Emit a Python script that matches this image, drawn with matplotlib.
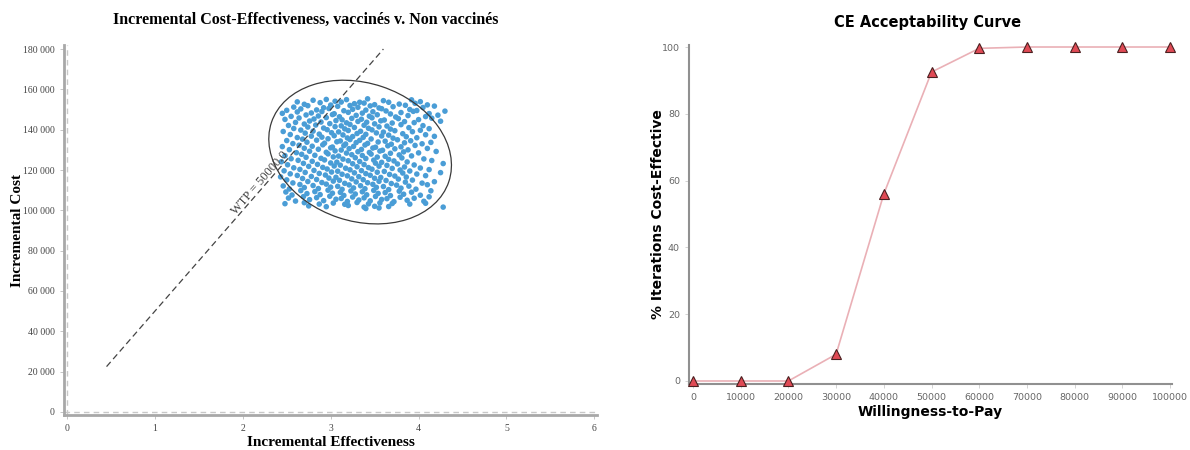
import matplotlib
matplotlib.use("Agg")
import matplotlib.pyplot as plt
from matplotlib.patches import Ellipse
from matplotlib.transforms import ScaledTranslation
from matplotlib.ticker import FuncFormatter

# ---------------- data: incremental cost-effectiveness scatter ----------------
# effectiveness values (x) and incremental cost in thousands (y)
ice_x = [
    2.62, 2.80, 2.95, 3.05, 3.18, 3.33, 3.42, 3.60, 3.92, 4.02,
    2.70, 2.88, 3.00, 3.12, 3.27, 3.38, 3.50, 3.66, 3.78, 3.96, 4.10,
    2.58, 2.74, 2.92, 3.08, 3.22, 3.31, 3.45, 3.55, 3.71, 3.85, 4.05, 4.18,
    2.50, 2.66, 2.84, 2.98, 3.15, 3.25, 3.40, 3.58, 3.63, 3.90, 3.98, 4.30,
    2.45, 2.62, 2.78, 2.90, 3.04, 3.20, 3.36, 3.48, 3.68, 3.80, 3.94, 4.12,
    2.55, 2.72, 2.86, 3.02, 3.10, 3.29, 3.44, 3.53, 3.74, 3.88, 4.08, 4.22,
    2.48, 2.64, 2.81, 2.95, 3.13, 3.24, 3.35, 3.47, 3.61, 3.77, 4.00, 4.15,
    2.60, 2.76, 2.89, 3.06, 3.18, 3.31, 3.41, 3.57, 3.70, 3.84, 3.95, 4.25,
    2.52, 2.70, 2.83, 2.99, 3.12, 3.22, 3.38, 3.50, 3.64, 3.80, 4.05,
    2.58, 2.74, 2.92, 3.05, 3.16, 3.27, 3.43, 3.55, 3.68, 3.89, 4.12,
    2.46, 2.66, 2.80, 2.96, 3.09, 3.20, 3.34, 3.47, 3.60, 3.73, 3.93, 4.02,
    2.54, 2.71, 2.87, 3.01, 3.14, 3.30, 3.40, 3.52, 3.66, 3.82, 4.08,
    2.62, 2.78, 2.90, 3.04, 3.19, 3.25, 3.37, 3.58, 3.71, 3.86, 3.98, 4.18,
    2.50, 2.68, 2.84, 2.97, 3.11, 3.22, 3.33, 3.46, 3.62, 3.76, 3.91,
    2.57, 2.73, 2.93, 3.07, 3.17, 3.29, 3.42, 3.54, 3.69, 3.84, 4.04, 4.14,
    2.45, 2.64, 2.79, 2.91, 3.02, 3.15, 3.26, 3.39, 3.51, 3.65, 3.80, 3.96,
    2.53, 2.70, 2.86, 3.00, 3.12, 3.21, 3.35, 3.48, 3.59, 3.73, 3.88, 4.10,
    2.61, 2.76, 2.95, 3.05, 3.18, 3.31, 3.44, 3.56, 3.68, 3.83, 4.00, 4.20,
    2.48, 2.67, 2.82, 2.97, 3.09, 3.24, 3.36, 3.46, 3.62, 3.78, 3.92,
    2.55, 2.72, 2.89, 3.03, 3.14, 3.28, 3.40, 3.53, 3.66, 3.81, 4.06,
    2.44, 2.63, 2.79, 2.93, 3.07, 3.20, 3.33, 3.49, 3.58, 3.72, 3.87, 4.15,
    2.51, 2.69, 2.85, 3.00, 3.11, 3.25, 3.38, 3.51, 3.64, 3.76, 3.95, 4.28,
    2.58, 2.75, 2.91, 3.04, 3.17, 3.30, 3.43, 3.55, 3.70, 3.84, 4.02,
    2.47, 2.65, 2.81, 2.96, 3.08, 3.22, 3.35, 3.47, 3.61, 3.79, 3.90, 4.12,
    2.54, 2.71, 2.87, 3.01, 3.13, 3.27, 3.40, 3.53, 3.67, 3.82, 3.98, 4.25,
    2.43, 2.62, 2.78, 2.94, 3.06, 3.19, 3.32, 3.45, 3.57, 3.73, 3.86, 4.08,
    2.50, 2.68, 2.84, 2.98, 3.10, 3.24, 3.37, 3.50, 3.63, 3.77, 3.93,
    2.57, 2.74, 2.90, 3.03, 3.16, 3.29, 3.42, 3.55, 3.69, 3.85, 4.04, 4.18,
    2.46, 2.65, 2.80, 2.95, 3.08, 3.21, 3.34, 3.48, 3.60, 3.75, 3.89, 4.10,
    2.53, 2.70, 2.86, 3.00, 3.13, 3.26, 3.39, 3.52, 3.66, 3.80, 3.97,
    2.49, 2.66, 2.82, 2.97, 3.11, 3.23, 3.36, 3.49, 3.62, 3.78, 3.92, 4.14,
    2.56, 2.73, 2.88, 3.02, 3.15, 3.28, 3.41, 3.54, 3.68, 3.83, 4.02,
    2.52, 2.69, 2.84, 2.99, 3.12, 3.25, 3.38, 3.51, 3.64, 3.79, 3.95, 4.12,
    2.60, 2.76, 2.92, 3.06, 3.19, 3.32, 3.45, 3.58, 3.72, 3.87, 4.06,
    2.48, 2.70, 2.87, 3.03, 3.16, 3.30, 3.43, 3.56, 3.70, 3.90, 4.08,
    2.75, 2.95, 3.20, 3.38, 3.50, 3.66, 4.28, 3.40, 3.55,
]
ice_y_k = [
    153.8, 154.6, 155.0, 154.1, 154.9, 153.6, 155.3, 154.4, 154.8, 153.9,
    152.6, 153.4, 152.2, 153.7, 152.9, 153.2, 152.4, 153.6, 152.7, 153.1, 152.3,
    151.2, 151.9, 150.9, 151.6, 152.0, 151.1, 151.8, 150.8, 151.4, 152.1, 151.0, 151.7,
    149.6, 150.3, 149.8, 150.5, 149.4, 150.1, 149.7, 150.4, 149.3, 150.0, 149.5, 149.2,
    148.1, 148.8, 148.3, 149.0, 147.9, 148.6, 148.2, 148.9, 147.8, 148.5, 149.1, 148.0,
    146.6, 147.3, 146.8, 147.5, 146.4, 147.1, 146.7, 147.4, 146.3, 147.0, 146.5, 147.2,
    145.1, 145.8, 145.3, 146.0, 144.9, 145.6, 145.2, 145.9, 144.8, 145.5, 145.0, 145.7,
    143.6, 144.3, 143.8, 144.5, 143.4, 144.1, 143.7, 144.4, 143.3, 144.0, 143.5, 144.2,
    142.1, 142.8, 142.3, 143.0, 141.9, 142.6, 142.2, 142.9, 141.8, 142.5, 142.0,
    140.6, 141.3, 140.8, 141.5, 140.4, 141.1, 140.7, 141.4, 140.3, 141.0, 140.5,
    139.1, 139.8, 139.3, 140.0, 138.9, 139.6, 139.2, 139.9, 138.8, 139.5, 139.0, 139.7,
    137.6, 138.3, 137.8, 138.5, 137.4, 138.1, 137.7, 138.4, 137.3, 138.0, 137.5,
    136.1, 136.8, 136.3, 137.0, 135.9, 136.6, 136.2, 136.9, 135.8, 136.5, 136.0, 136.7,
    134.6, 135.3, 134.8, 135.5, 134.4, 135.1, 134.7, 135.4, 134.3, 135.0, 134.5,
    133.1, 133.8, 133.3, 134.0, 132.9, 133.6, 133.2, 133.9, 132.8, 133.5, 133.0, 133.7,
    131.6, 132.3, 131.8, 132.5, 131.4, 132.1, 131.7, 132.4, 131.3, 132.0, 131.5, 132.2,
    130.1, 130.8, 130.3, 131.0, 129.9, 130.6, 130.2, 130.9, 129.8, 130.5, 130.0, 130.7,
    128.6, 129.3, 128.8, 129.5, 128.4, 129.1, 128.7, 129.4, 128.3, 129.0, 128.5, 129.2,
    127.1, 127.8, 127.3, 128.0, 126.9, 127.6, 127.2, 127.9, 126.8, 127.5, 127.0,
    125.6, 126.3, 125.8, 126.5, 125.4, 126.1, 125.7, 126.4, 125.3, 126.0, 125.5,
    124.1, 124.8, 124.3, 125.0, 123.9, 124.6, 124.2, 124.9, 123.8, 124.5, 124.0, 124.7,
    122.6, 123.3, 122.8, 123.5, 122.4, 123.1, 122.7, 123.4, 122.3, 123.0, 122.5, 123.2,
    121.1, 121.8, 121.3, 122.0, 120.9, 121.6, 121.2, 121.9, 120.8, 121.5, 121.0,
    119.6, 120.3, 119.8, 120.5, 119.4, 120.1, 119.7, 120.4, 119.3, 120.0, 119.5, 120.2,
    118.1, 118.8, 118.3, 119.0, 117.9, 118.6, 118.2, 118.9, 117.8, 118.5, 118.0, 118.7,
    116.6, 117.3, 116.8, 117.5, 116.4, 117.1, 116.7, 117.4, 116.3, 117.0, 116.5, 117.2,
    115.1, 115.8, 115.3, 116.0, 114.9, 115.6, 115.2, 115.9, 114.8, 115.5, 115.0,
    113.6, 114.3, 113.8, 114.5, 113.4, 114.1, 113.7, 114.4, 113.3, 114.0, 113.5, 114.2,
    112.1, 112.8, 112.3, 113.0, 111.9, 112.6, 112.2, 112.9, 111.8, 112.5, 112.0, 112.7,
    110.6, 111.3, 110.8, 111.5, 110.4, 111.1, 110.7, 111.4, 110.3, 111.0, 110.5,
    109.1, 109.8, 109.3, 110.0, 108.9, 109.6, 109.2, 109.9, 108.8, 109.5, 109.0, 109.7,
    107.6, 108.3, 107.8, 108.5, 107.4, 108.1, 107.7, 108.4, 107.3, 108.0, 107.5,
    106.1, 106.8, 106.3, 107.0, 105.9, 106.6, 106.2, 106.9, 105.8, 106.5, 106.0, 106.7,
    104.6, 105.3, 104.8, 105.5, 104.4, 105.1, 104.7, 105.4, 104.3, 105.0, 104.5,
    103.3, 103.8, 103.1, 103.6, 103.0, 103.9, 103.2, 103.7, 103.4, 103.1, 103.5,
    102.2, 101.8, 102.4, 101.6, 102.0, 101.9, 101.6, 100.9, 101.2,
]
ice_y = [v * 1000 for v in ice_y_k]

# confidence ellipse (centre in data units; axes in pixels, angle in degrees)
ellipse_center = (3.335, 128900)
ellipse_w_px, ellipse_h_px, ellipse_angle = 187, 138, -18.5

# willingness-to-pay threshold line
wtp = 50000.0
wtp_x_range = [0.45, 3.6]

left_xticks = [0, 1, 2, 3, 4, 5, 6]
left_yticks = [0, 20000, 40000, 60000, 80000, 100000, 120000, 140000, 160000, 180000]

# ---------------- data: CE acceptability curve ----------------
wtp_values = [0, 10000, 20000, 30000, 40000, 50000, 60000, 70000, 80000, 90000, 100000]
pct_ce = [0, 0, 0, 8, 56, 92.5, 99.6, 100, 100, 100, 100]
right_yticks = [0, 20, 40, 60, 80, 100]

# ---------------- figure ----------------
fig = plt.figure(figsize=(11.9, 4.5), dpi=100)

serif = ["Liberation Serif", "DejaVu Serif"]
sans = ["DejaVu Sans"]
spine_gray = "#a8a8a8"

# ----- left panel -----
ax1 = fig.add_axes([64 / 1190, 1 - 415 / 450, (597 - 64) / 1190, (415 - 45) / 450])
ax1.set_xlim(-0.034, 6.03)
ax1.set_ylim(-1500, 182000)
for s in ["top", "right"]:
    ax1.spines[s].set_visible(False)
for s in ["left", "bottom"]:
    ax1.spines[s].set_color(spine_gray)
    ax1.spines[s].set_linewidth(2.0)
ax1.axvline(0, color="#c8c8c8", lw=1.0, ls=(0, (4, 3)), zorder=1)
ax1.axhline(0, color="#c8c8c8", lw=1.0, ls=(0, (4, 3)), zorder=1)

ax1.scatter(ice_x, ice_y, s=16, color="#4a9dd6", edgecolors="none", zorder=3)

ell = Ellipse((0, 0), ellipse_w_px, ellipse_h_px, angle=ellipse_angle,
              fill=False, edgecolor="#3a3a3a", lw=0.9,
              transform=ScaledTranslation(ellipse_center[0], ellipse_center[1], ax1.transData),
              zorder=4)
ax1.add_patch(ell)

ax1.plot(wtp_x_range, [wtp * v for v in wtp_x_range], color="#444444", lw=0.9,
         ls=(0, (5, 3)), zorder=5)
ax1.text(2.2, 113500, "WTP = 50000.0", rotation=49, rotation_mode="anchor",
         ha="center", va="center", fontsize=9, color="#404040", family=serif, zorder=6)

ax1.set_xticks(left_xticks)
ax1.set_yticks(left_yticks)
ax1.yaxis.set_major_formatter(FuncFormatter(lambda v, p: f"{int(v):,}".replace(",", " ")))
ax1.tick_params(axis="both", length=3, width=0.6, color="#bbbbbb", labelsize=7,
                labelcolor="#444444")
for lab in ax1.get_xticklabels() + ax1.get_yticklabels():
    lab.set_family(serif)

ax1.set_xlabel("Incremental Effectiveness", fontsize=11, fontweight="bold",
               family=serif, labelpad=2)
ax1.set_ylabel("Incremental Cost", fontsize=11, fontweight="bold", family=serif,
               labelpad=-1)
fig.text(306 / 1190, 1 - 20 / 450, "Incremental Cost-Effectiveness, vaccinés v. Non vaccinés",
         ha="center", va="center", fontsize=11.5, fontweight="bold", family=serif)

# ----- right panel -----
ax2 = fig.add_axes([689 / 1190, 1 - 384 / 450, (1172 - 689) / 1190, (384 - 45) / 450])
ax2.set_xlim(-830, 100400)
ax2.set_ylim(-0.9, 100.6)
for s in ["top", "right"]:
    ax2.spines[s].set_visible(False)
for s in ["left", "bottom"]:
    ax2.spines[s].set_color("#909090")
    ax2.spines[s].set_linewidth(1.5)

ax2.plot(wtp_values, pct_ce, color="#eab0b6", lw=1.2, zorder=2)
ax2.plot(wtp_values, pct_ce, ls="none", marker="^", markersize=7,
         markerfacecolor="#e04a55", markeredgecolor="#4a2020", markeredgewidth=0.8,
         clip_on=False, zorder=3)

ax2.set_xticks(wtp_values)
ax2.set_yticks(right_yticks)
ax2.tick_params(axis="both", length=3, width=0.6, color="#cccccc", labelsize=6.8,
                labelcolor="#666666")
ax2.set_xlabel("Willingness-to-Pay", fontsize=10, fontweight="bold", family=sans,
               labelpad=2)
ax2.set_ylabel("% Iterations Cost-Effective", fontsize=10, fontweight="bold",
               family=sans, labelpad=-2)
fig.text(928 / 1190, 1 - 22 / 450, "CE Acceptability Curve", ha="center", va="center",
         fontsize=10.5, fontweight="bold", family=sans)

fig.savefig("out.png", dpi=100)
